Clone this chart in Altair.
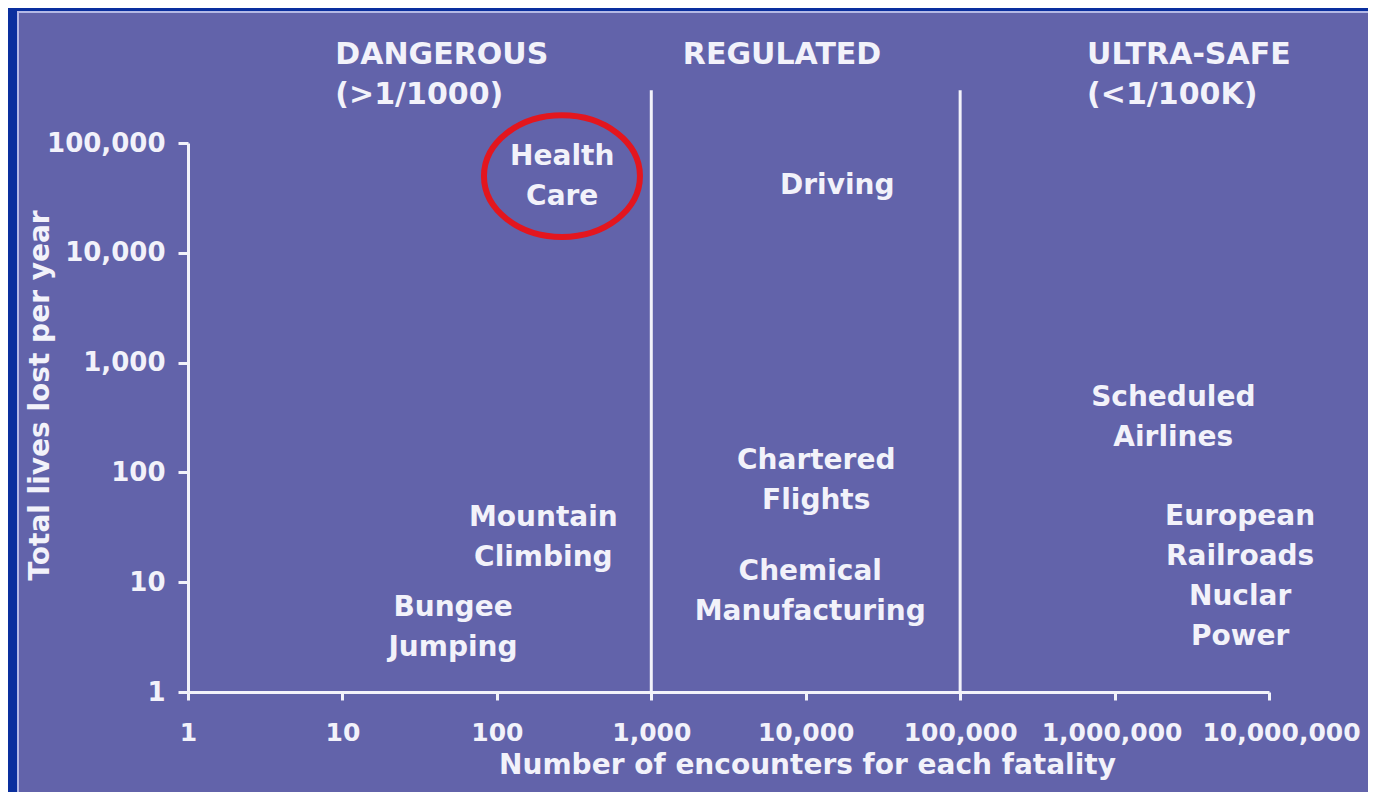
import altair as alt
import pandas as pd

# ---- data ----
# label anchors are the centre of each label's first line
activities = ["Health\nCare", "Driving", "Mountain\nClimbing", "Bungee\nJumping",
              "Chartered\nFlights", "Chemical\nManufacturing", "Scheduled\nAirlines",
              "European\nRailroads\nNuclar\nPower"]
encounters = [265, 16000, 200, 52, 11700, 10700, 2400000, 6500000]
lives_lost = [74500, 40600, 38.4, 5.82, 127, 12.4, 476, 39.2]

highlight_x = [264]
highlight_y = [50000]

zones = ["DANGEROUS\n(>1/1000)", "REGULATED", "ULTRA-SAFE\n(<1/100K)"]
zone_x = [9, 1600, 664000]
zone_y = [633000, 633000, 633000]

thresholds = [1000, 100000]
threshold_bottom = [1, 1]
threshold_top = [302000, 302000]

x_ticks = [1, 10, 100, 1000, 10000, 100000, 1000000, 10000000]
y_ticks = [1, 10, 100, 1000, 10000, 100000]

PURPLE = "#6263AA"
DARK = "#0A2F9E"
FRAME = "#B4B8E6"
WHITE = "#F2F2FA"
RED = "#E3161E"
FONT = "DejaVu Sans"

df = pd.DataFrame({"label": activities, "x": encounters, "y": lives_lost})
df_hi = pd.DataFrame({"x": highlight_x, "y": highlight_y})
df_zone = pd.DataFrame({"label": zones, "x": zone_x, "y": zone_y})
df_rule = pd.DataFrame({"x": thresholds, "y": threshold_bottom, "y2": threshold_top})

W, H = 1081, 549

xscale = alt.Scale(type="log", domain=[1, 10000000], nice=False)
yscale = alt.Scale(type="log", domain=[1, 100000], nice=False)

xaxis = alt.Axis(values=x_ticks, format=",", title="Number of encounters for each fatality",
                 labelFlush=False, labelOverlap=False, grid=False, zindex=2,
                 labelOffset=alt.ExprRef("datum.value >= 10000000 ? 12 : (datum.value >= 1000000 ? -3 : 0)"),
                 domainColor=WHITE, domainWidth=3, tickColor=WHITE, tickWidth=3, tickSize=8,
                 labelColor=WHITE, labelFont=FONT, labelFontWeight="bold", labelFontSize=25,
                 labelPadding=20, titleColor=WHITE, titleFont=FONT, titleFontWeight="bold",
                 titleFontSize=28, titleX=619, titleAlign="center", titlePadding=6)
yaxis = alt.Axis(values=y_ticks, format=",", title="Total lives lost per year",
                 labelFlush=False, labelOverlap=False, grid=False, zindex=2,
                 domainColor=WHITE, domainWidth=3, tickColor=WHITE, tickWidth=3, tickSize=10,
                 labelColor=WHITE, labelFont=FONT, labelFontWeight="bold", labelFontSize=26,
                 labelPadding=13, titleColor=WHITE, titleFont=FONT, titleFontWeight="bold",
                 titleFontSize=28, titleX=-148, titleY=252, titleAlign="center",
                 titleBaseline="middle", titleAngle=-90)


def X():
    return alt.X("x:Q", scale=xscale, axis=xaxis)


def Y():
    return alt.Y("y:Q", scale=yscale, axis=yaxis)


frame = alt.Chart(pd.DataFrame({"a": [0]})).mark_rect(
    fill=PURPLE, stroke=FRAME, strokeWidth=2
).encode(
    x=alt.value(-170), x2=alt.value(W + 120), y=alt.value(-131), y2=alt.value(H + 130)
)

rules = alt.Chart(df_rule).mark_rule(color=WHITE, strokeWidth=3).encode(
    x=X(), y=Y(), y2="y2:Q",
)

texts = alt.Chart(df).mark_text(
    font=FONT, fontWeight="bold", fontSize=28, color=WHITE, align="center",
    baseline="middle", lineBreak="\n", lineHeight=40
).encode(x=X(), y=Y(), text="label:N")

zone_text = alt.Chart(df_zone).mark_text(
    font=FONT, fontWeight="bold", fontSize=30, color=WHITE, align="left",
    baseline="middle", lineBreak="\n", lineHeight=40
).encode(x=X(), y=Y(), text="label:N")

ellipse = alt.Chart(df_hi).mark_point(
    shape="M -1 0 A 1 0.78 0 1 1 1 0 A 1 0.78 0 1 1 -1 0 Z",
    size=24336, filled=False, stroke=RED, strokeWidth=6, opacity=1
).encode(x=X(), y=Y())

chart = alt.layer(frame, rules, ellipse, texts, zone_text).properties(
    width=W, height=H,
    autosize=alt.AutoSizeParams(type="none"),
    padding={"left": 180, "top": 135, "right": 99, "bottom": 100},
    background=DARK,
).configure_view(stroke=None)

chart.save("out.html", embed_options={"renderer": "svg", "actions": False})
